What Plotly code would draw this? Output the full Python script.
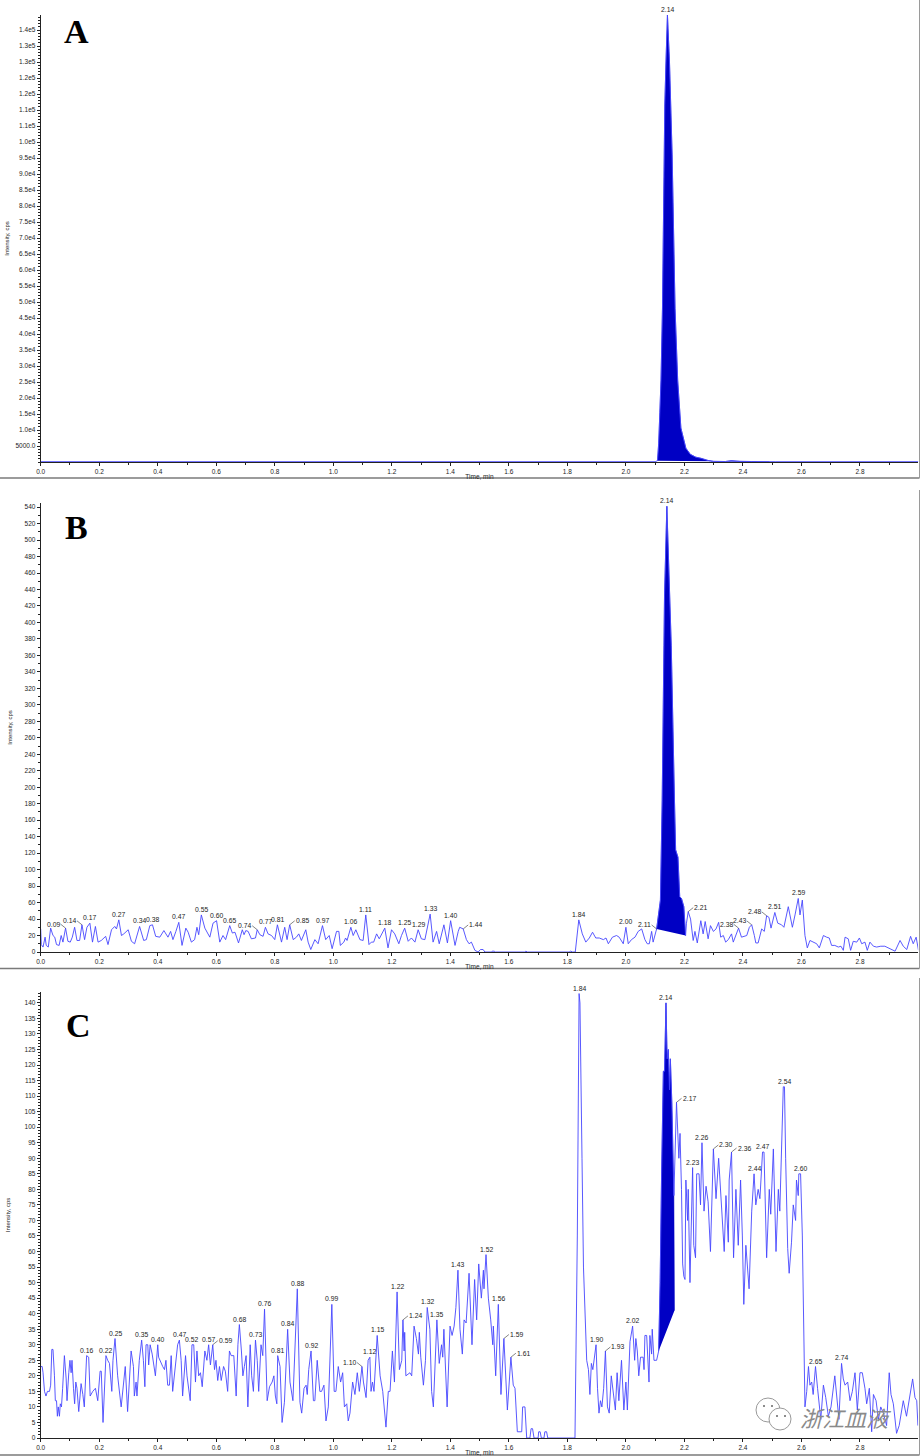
import plotly.graph_objects as go

# ---------- Panel A ----------
time_a = [0.0, 1.0, 2.1, 2.108, 2.112, 2.116, 2.12, 2.125, 2.13, 2.133, 2.137, 2.142, 2.149, 2.154, 2.158, 2.168,
          2.177, 2.188, 2.205, 2.22, 2.239, 2.257, 2.28, 2.3, 2.34, 2.36, 2.37, 2.39, 2.43, 2.45, 2.47, 2.49, 2.51, 3.0]
int_a = [100, 100, 100, 400, 5800, 15400, 25600, 48000, 96000, 111600, 125000, 139700, 125000, 111600, 96000, 48000,
         25600, 10600, 4300, 2400, 1500, 1150, 500, 200, 150, 400, 300, 200, 150, 100, 250, 100, 100, 100]
ticks_a = [5000 * i for i in range(1, 28)]
ticktext_a = ["5000.0", "1.0e4", "1.5e4", "2.0e4", "2.5e4", "3.0e4", "3.5e4", "4.0e4", "4.5e4", "5.0e4", "5.5e4",
              "6.0e4", "6.5e4", "7.0e4", "7.5e4", "8.0e4", "8.5e4", "9.0e4", "9.5e4", "1.0e5", "1.1e5", "1.1e5",
              "1.2e5", "1.2e5", "1.3e5", "1.3e5", "1.4e5"]
labels_a = [("2.14", 2.142, 139700, 0)]

# ---------- Panel B ----------
time_b = [0.0, 0.002, 0.008, 0.015, 0.019, 0.026, 0.034, 0.042, 0.048, 0.054, 0.063, 0.070, 0.076, 0.085, 0.093, 0.101,
          0.108, 0.116, 0.124, 0.133, 0.141, 0.150, 0.158, 0.168, 0.177, 0.187, 0.196, 0.207, 0.222, 0.230, 0.242, 0.253,
          0.259, 0.267, 0.276, 0.284, 0.299, 0.310, 0.321, 0.338, 0.352, 0.361, 0.373, 0.382, 0.393, 0.407, 0.421, 0.435,
          0.444, 0.452, 0.462, 0.472, 0.483, 0.496, 0.504, 0.515, 0.526, 0.534, 0.540, 0.549, 0.561, 0.578, 0.589, 0.601,
          0.612, 0.623, 0.632, 0.646, 0.655, 0.664, 0.676, 0.689, 0.695, 0.701, 0.709, 0.720, 0.734, 0.740, 0.749, 0.760,
          0.768, 0.777, 0.789, 0.800, 0.809, 0.823, 0.834, 0.842, 0.851, 0.863, 0.874, 0.882, 0.891, 0.906, 0.914, 0.923,
          0.937, 0.948, 0.963, 0.974, 0.986, 0.996, 1.011, 1.019, 1.024, 1.036, 1.042, 1.047, 1.060, 1.068, 1.077, 1.091,
          1.102, 1.111, 1.122, 1.130, 1.138, 1.148, 1.157, 1.176, 1.187, 1.199, 1.210, 1.224, 1.233, 1.244, 1.256, 1.267,
          1.279, 1.290, 1.301, 1.313, 1.331, 1.341, 1.353, 1.362, 1.378, 1.390, 1.401, 1.407, 1.416, 1.427, 1.432, 1.444,
          1.455, 1.464, 1.472, 1.484, 1.495, 1.503, 1.512, 1.518, 1.541, 1.543, 1.550, 1.553, 1.655, 1.658, 1.664, 1.806,
          1.811, 1.818, 1.827, 1.839, 1.851, 1.863, 1.875, 1.886, 1.897, 1.909, 1.923, 1.932, 1.940, 1.954, 1.968, 1.977,
          1.991, 2.0, 2.008, 2.019, 2.031, 2.042, 2.054, 2.065, 2.073, 2.080, 2.088, 2.093, 2.105, 2.118, 2.124, 2.13,
          2.132, 2.14, 2.15, 2.155, 2.166, 2.17, 2.178, 2.184, 2.19, 2.198, 2.204, 2.207, 2.213, 2.221, 2.230, 2.236,
          2.244, 2.256, 2.264, 2.271, 2.281, 2.289, 2.299, 2.308, 2.317, 2.324, 2.333, 2.341, 2.350, 2.361, 2.367, 2.376,
          2.385, 2.395, 2.413, 2.422, 2.430, 2.439, 2.444, 2.452, 2.464, 2.473, 2.481, 2.489, 2.496, 2.509, 2.519, 2.532,
          2.540, 2.555, 2.569, 2.578, 2.589, 2.595, 2.603, 2.612, 2.620, 2.629, 2.640, 2.652, 2.661, 2.675, 2.686, 2.695,
          2.703, 2.714, 2.726, 2.735, 2.743, 2.749, 2.760, 2.768, 2.777, 2.789, 2.798, 2.806, 2.817, 2.825, 2.834, 2.846,
          2.857, 2.871, 2.885, 2.902, 2.920, 2.937, 2.948, 2.960, 2.973, 2.982, 2.992, 3.0]
int_b = [28, 9, 6, 18, 8, 6, 29, 20, 18, 9, 8, 20, 12, 29, 13, 12,
         18, 30, 14, 14, 33, 15, 30, 35, 12, 31, 12, 14, 19, 9, 27, 31,
         28, 39, 20, 22, 27, 13, 10, 31, 14, 15, 32, 33, 19, 18, 26, 18,
         25, 15, 25, 36, 8, 29, 24, 12, 15, 30, 21, 45, 29, 18, 35, 38,
         12, 20, 15, 32, 23, 24, 11, 27, 21, 26, 25, 16, 17, 27, 21, 19,
         30, 22, 20, 15, 33, 12, 30, 15, 33, 15, 18, 22, 14, 27, 12, 3,
         15, 10, 32, 15, 20, 4, 25, 25, 8, 12, 17, 14, 30, 20, 27, 15,
         14, 45, 9, 12, 12, 22, 16, 29, 5, 27, 22, 10, 20, 29, 13, 17,
         12, 27, 16, 15, 46, 12, 25, 10, 33, 11, 38, 25, 8, 25, 30, 28,
         15, 10, 12, 2, 0, 3, 3, 0, 0, 1, 1, 0, 0, 1, 0, 0,
         1, 0, 0, 39, 22, 12, 17, 24, 17, 17, 15, 17, 10, 18, 20, 18,
         10, 30, 10, 15, 18, 25, 28, 15, 10, 10, 25, 12, 28, 63, 184, 372,
         433, 541, 433, 372, 184, 124, 115, 67, 65, 55, 20, 35, 49, 40, 14, 25,
         11, 38, 22, 37, 16, 32, 25, 28, 36, 18, 20, 12, 15, 22, 12, 20,
         29, 18, 20, 30, 33, 20, 11, 11, 28, 25, 44, 42, 29, 48, 35, 33,
         30, 55, 30, 45, 65, 45, 63, 20, 5, 14, 12, 10, 5, 20, 18, 17,
         8, 8, 6, 7, 2, 18, 16, 2, 13, 12, 17, 10, 12, 2, 12, 7,
         6, 7, 7, 4, 1, 14, 7, 3, 19, 10, 18, 2]
labels_b = [("0.09", 0.085, 29, -1), ("0.14", 0.141, 33, -1), ("0.17", 0.168, 35, 0), ("0.27", 0.267, 39, 0),
            ("0.34", 0.338, 31, 0), ("0.38", 0.382, 33, 0), ("0.47", 0.472, 36, 0), ("0.55", 0.549, 45, 0),
            ("0.60", 0.601, 38, 0), ("0.65", 0.646, 32, 0), ("0.74", 0.740, 27, -1), ("0.77", 0.768, 30, 0),
            ("0.81", 0.809, 33, 0), ("0.85", 0.851, 33, 1), ("0.97", 0.963, 32, 0), ("1.06", 1.060, 30, 0),
            ("1.11", 1.111, 45, 0), ("1.18", 1.176, 29, 0), ("1.25", 1.244, 29, 0), ("1.29", 1.290, 27, 0),
            ("1.33", 1.331, 46, 0), ("1.40", 1.401, 38, 0), ("1.44", 1.444, 28, 1), ("1.84", 1.839, 39, 0),
            ("2.00", 2.0, 30, 0), ("2.11", 2.105, 28, -1), ("2.14", 2.14, 541, 0), ("2.21", 2.213, 49, 1),
            ("2.38", 2.385, 29, -1), ("2.43", 2.430, 33, -1), ("2.48", 2.481, 44, -1), ("2.51", 2.509, 48, 0),
            ("2.59", 2.589, 65, 0)]

# ---------- Panel C ----------
time_c = [0.0, 0.005, 0.008, 0.013, 0.018, 0.023, 0.030, 0.034, 0.038, 0.042, 0.047, 0.050, 0.054, 0.057, 0.060, 0.064,
          0.067, 0.071, 0.075, 0.081, 0.087, 0.090, 0.096, 0.100, 0.104, 0.107, 0.112, 0.116, 0.120, 0.124, 0.130, 0.138,
          0.144, 0.149, 0.157, 0.164, 0.169, 0.178, 0.187, 0.191, 0.195, 0.203, 0.207, 0.213, 0.223, 0.229, 0.235, 0.243,
          0.247, 0.254, 0.263, 0.275, 0.283, 0.289, 0.297, 0.309, 0.317, 0.320, 0.326, 0.329, 0.337, 0.345, 0.351, 0.356,
          0.360, 0.366, 0.369, 0.374, 0.381, 0.392, 0.400, 0.403, 0.417, 0.423, 0.428, 0.434, 0.440, 0.446, 0.451, 0.463,
          0.468, 0.474, 0.480, 0.485, 0.495, 0.500, 0.506, 0.511, 0.517, 0.523, 0.529, 0.534, 0.540, 0.546, 0.552, 0.561,
          0.568, 0.574, 0.580, 0.588, 0.594, 0.599, 0.605, 0.611, 0.617, 0.625, 0.631, 0.639, 0.645, 0.651, 0.660, 0.668,
          0.674, 0.679, 0.686, 0.691, 0.696, 0.702, 0.708, 0.716, 0.721, 0.727, 0.734, 0.740, 0.745, 0.753, 0.759, 0.765,
          0.774, 0.782, 0.791, 0.797, 0.802, 0.807, 0.810, 0.818, 0.825, 0.833, 0.844, 0.852, 0.862, 0.877, 0.886, 0.892,
          0.900, 0.907, 0.911, 0.916, 0.924, 0.932, 0.937, 0.945, 0.954, 0.960, 0.968, 0.975, 0.983, 0.995, 1.003, 1.009,
          1.017, 1.025, 1.032, 1.038, 1.046, 1.051, 1.057, 1.066, 1.074, 1.082, 1.089, 1.098, 1.103, 1.112, 1.119, 1.125,
          1.129, 1.134, 1.139, 1.150, 1.160, 1.169, 1.180, 1.188, 1.194, 1.202, 1.209, 1.218, 1.226, 1.234, 1.238, 1.242,
          1.244, 1.248, 1.262, 1.268, 1.276, 1.284, 1.291, 1.294, 1.299, 1.308, 1.315, 1.321, 1.330, 1.336, 1.342, 1.349,
          1.354, 1.362, 1.370, 1.374, 1.378, 1.389, 1.399, 1.406, 1.413, 1.419, 1.426, 1.433, 1.441, 1.447, 1.454, 1.464,
          1.474, 1.483, 1.490, 1.497, 1.506, 1.513, 1.515, 1.522, 1.530, 1.538, 1.545, 1.547, 1.555, 1.564, 1.573, 1.583,
          1.595, 1.607, 1.615, 1.621, 1.629, 1.644, 1.647, 1.655, 1.661, 1.672, 1.676, 1.681, 1.686, 1.700, 1.702, 1.707,
          1.711, 1.720, 1.723, 1.729, 1.733, 1.826, 1.834, 1.840, 1.843, 1.850, 1.855, 1.866, 1.872, 1.877, 1.882, 1.887,
          1.892, 1.898, 1.903, 1.908, 1.913, 1.918, 1.924, 1.930, 1.937, 1.943, 1.950, 1.957, 1.964, 1.970, 1.976, 1.980,
          1.985, 1.993, 2.0, 2.005, 2.014, 2.023, 2.030, 2.034, 2.039, 2.044, 2.050, 2.059, 2.062, 2.065, 2.071, 2.079,
          2.082, 2.088, 2.090, 2.096, 2.105, 2.112, 2.117, 2.122, 2.128, 2.132, 2.137, 2.141, 2.145, 2.149, 2.152, 2.157,
          2.160, 2.164, 2.173, 2.181, 2.185, 2.190, 2.194, 2.198, 2.202, 2.205, 2.211, 2.213, 2.219, 2.228, 2.232, 2.238,
          2.242, 2.250, 2.255, 2.260, 2.267, 2.274, 2.281, 2.289, 2.299, 2.308, 2.317, 2.327, 2.336, 2.342, 2.350, 2.353,
          2.361, 2.368, 2.376, 2.384, 2.392, 2.398, 2.403, 2.410, 2.421, 2.430, 2.438, 2.444, 2.452, 2.458, 2.467, 2.472,
          2.481, 2.490, 2.495, 2.504, 2.513, 2.521, 2.526, 2.538, 2.542, 2.546, 2.553, 2.558, 2.566, 2.572, 2.580, 2.583,
          2.589, 2.591, 2.597, 2.603, 2.610, 2.612, 2.618, 2.624, 2.629, 2.635, 2.640, 2.648, 2.655, 2.666, 2.675, 2.683,
          2.692, 2.701, 2.714, 2.720, 2.728, 2.737, 2.743, 2.749, 2.758, 2.766, 2.774, 2.783, 2.791, 2.800, 2.808, 2.817,
          2.823, 2.832, 2.840, 2.846, 2.855, 2.863, 2.871, 2.880, 2.891, 2.900, 2.906, 2.914, 2.925, 2.934, 2.948, 2.959,
          2.973, 2.980, 2.988, 2.994, 2.998]
int_c = [23, 23, 21, 15, 13.5, 15, 15, 17, 28.5, 28.5, 20, 12, 12, 7, 10, 7,
         11, 10, 16, 26.5, 19, 12, 21, 25, 21, 25, 16, 11, 18, 16, 8.5, 17.5,
         14, 10, 26.5, 26, 13.5, 15, 16, 14, 12, 21.5, 21.5, 5, 26.5, 25, 24, 15,
         25, 32, 20, 10, 18, 23, 8.5, 28, 23, 13.5, 18, 13.5, 25, 31.5, 25, 16.5,
         30, 30, 23.5, 30, 27, 20, 30, 26, 23, 22, 25, 17, 17, 26.5, 15, 25,
         30, 31.5, 25, 13.5, 26.5, 20, 15, 12, 30, 30, 18, 28, 20, 21, 16.5, 28,
         25, 30, 23.5, 30, 22, 25, 18.5, 23, 18.5, 23, 21.5, 15, 28, 26.5, 26.5, 13.5,
         30, 36.5, 28, 20, 23, 26.5, 10, 30, 20, 15, 31.5, 25, 15, 30, 26.5, 41.5,
         12, 16.5, 18, 20, 13.5, 11, 26.5, 23, 5, 11.5, 35, 18, 12, 48, 11.5, 8,
         16, 17, 14, 22, 28, 12, 12, 25, 15, 15, 17, 5.5, 10, 43, 15, 15,
         23, 18, 21, 10, 11, 5.5, 8, 18, 14, 21, 15, 23, 18, 13, 25, 26,
         15, 18, 15, 33, 20, 15, 3.5, 15, 15, 28, 18, 47, 22, 25, 38, 28,
         34, 20, 21, 20, 36, 32, 27, 34, 26, 17, 25, 42, 35, 15, 10, 30,
         38, 24, 30, 26, 35, 10, 36, 33, 36, 42, 54, 35, 27, 38, 37, 53,
         30, 51, 38, 56, 45, 54, 48, 59, 45, 38, 30, 36, 20, 43, 14, 32,
         9, 26, 17, 16, 2, 2, 10, 10, 0, 0, 3, 3, 0, 0, 2, 2,
         0, 0, 2, 2, 0, 0, 65, 143, 140, 90, 55, 25, 22, 14, 24, 22,
         25, 30, 16, 8, 12, 10, 16, 28, 10, 8, 20, 14, 9, 21, 12, 18,
         25, 9, 18, 9, 31, 36, 25, 32, 28, 20, 26, 26, 22, 33, 33, 18,
         33, 27, 35, 25, 25, 28, 50, 85, 118, 118, 140, 122, 125, 112, 122, 108,
         96, 78, 108, 90, 98, 80, 56, 52, 51, 83, 70, 80, 50, 87, 62, 58,
         85, 85, 75, 95, 73, 81, 76, 60, 93, 77, 90, 72, 60, 78, 63, 83,
         92, 58, 80, 62, 83, 65, 43, 62, 48, 73, 85, 75, 80, 77, 92, 92,
         58, 80, 72, 93, 60, 80, 73, 113, 113, 90, 61, 53, 63, 75, 70, 83,
         78, 85, 85, 65, 20, 10, 15, 23, 17, 18, 14, 23, 16, 6, 17, 13,
         7, 10, 20, 14, 6, 24, 19, 17, 18, 12, 15, 21, 9, 21, 21, 16,
         11, 16, 2, 14, 12, 6, 10, 8, 4, 21, 14, 11, 1.5, 4, 12, 7,
         15, 19, 13, 12, 4]
labels_c = [("0.16", 0.157, 26.5, 0), ("0.22", 0.223, 26.5, 0), ("0.25", 0.254, 32, 0), ("0.35", 0.345, 31.5, 0),
            ("0.40", 0.400, 30, 0), ("0.47", 0.474, 31.5, 0), ("0.52", 0.517, 30, 0), ("0.57", 0.574, 30, 0),
            ("0.59", 0.588, 30, 1), ("0.68", 0.679, 36.5, 0), ("0.73", 0.734, 31.5, 0), ("0.76", 0.765, 41.5, 0),
            ("0.81", 0.810, 26.5, 0), ("0.84", 0.844, 35, 0), ("0.88", 0.877, 48, 0), ("0.92", 0.924, 28, 0),
            ("0.99", 0.995, 43, 0), ("1.10", 1.098, 23, -1), ("1.12", 1.125, 26, 0), ("1.15", 1.150, 33, 0),
            ("1.22", 1.218, 47, 0), ("1.24", 1.238, 38, 1), ("1.32", 1.321, 42, 0), ("1.35", 1.354, 38, 0),
            ("1.43", 1.426, 54, 0), ("1.52", 1.522, 59, 0), ("1.56", 1.564, 43, 0), ("1.59", 1.583, 32, 1),
            ("1.61", 1.607, 26, 1), ("1.84", 1.840, 143, 0), ("1.90", 1.898, 30, 0), ("1.93", 1.930, 28, 1),
            ("2.02", 2.023, 36, 0), ("2.14", 2.137, 140, 0), ("2.17", 2.173, 108, 1), ("2.23", 2.228, 87, 0),
            ("2.26", 2.260, 95, 0), ("2.30", 2.299, 93, 1), ("2.36", 2.361, 92, 1), ("2.44", 2.438, 85, 0),
            ("2.47", 2.467, 92, 0), ("2.54", 2.542, 113, 0), ("2.60", 2.597, 85, 0), ("2.65", 2.648, 23, 0),
            ("2.74", 2.737, 24, 0)]

# Integrated peak regions: start, end, and the value at which the baseline ends
peak_a = (2.108, 2.49, 100)
peak_b = (2.105, 2.198, 20, 2.204)
peak_c = (2.112, 2.164, 41, 2.166)

W, H = 920, 1456
LINE = "#4646ff"
FILL = "#0000c4"
TXT = "#1c1c1c"
FONT = "Liberation Sans, Arial, sans-serif"


def ypos(p):
    return 1 - p / H


X_DOM = [40.7 / W, 918.2 / W]
panels = [
    (time_a, int_a, labels_a, (15, 462), [0, 139700], ""),
    (time_b, int_b, labels_b, (503, 952), [0, 545], "2"),
    (time_c, int_c, labels_c, (992, 1438), [0, 143.5], "3"),
]

fig = go.Figure()
annotations = []
layout = {}
for i, (t, v, labs, (top, bot), yr, s) in enumerate(panels):
    if i == 0:
        pts = [(a, b) for a, b in zip(t, v) if peak_a[0] <= a <= peak_a[1]]
    elif i == 1:
        pts = [(a, b) for a, b in zip(t, v) if peak_b[0] <= a <= peak_b[1]] + [(peak_b[3], peak_b[2])]
    else:
        pts = [(a, b) for a, b in zip(t, v) if peak_c[0] <= a <= peak_c[1]] + [(peak_c[3], peak_c[2])]
    fig.add_trace(go.Scatter(x=[p[0] for p in pts], y=[p[1] for p in pts], mode="lines", fill="toself",
                             fillcolor=FILL, line=dict(color=FILL, width=0.5), xaxis="x" + s, yaxis="y" + s,
                             hoverinfo="skip", showlegend=False))
    fig.add_trace(go.Scatter(x=t, y=v, mode="lines", line=dict(color=LINE, width=0.9), xaxis="x" + s, yaxis="y" + s,
                             showlegend=False))
    for text, lx, ly, side in labs:
        a = dict(text=text, x=lx, y=ly, xref="x" + s, yref="y" + s,
                 font=dict(family=FONT, size=6.8, color=TXT), borderpad=0)
        if side == 0:
            a.update(showarrow=False, yanchor="bottom", xanchor="center", yshift=1)
        else:
            a.update(showarrow=True, arrowhead=0, arrowwidth=0.6, arrowcolor="#333",
                     ax=5 * side, ay=-4, xanchor="left" if side > 0 else "right", yanchor="middle")
        annotations.append(a)

    xa = dict(domain=X_DOM, range=[0, 2.999], anchor="y" + s, tick0=0, dtick=0.2, tickformat=".1f", automargin=False,
              ticks="outside", ticklen=3, tickwidth=1, tickcolor="#222", showline=True, linecolor="#222", linewidth=1,
              showgrid=False, zeroline=False, tickfont=dict(family=FONT, size=6.5, color=TXT),
              minor=dict(dtick=0.1, tick0=0, ticks="outside", ticklen=2, tickcolor="#222", tickwidth=1, showgrid=False),
              title=dict(text="Time, min", font=dict(family=FONT, size=6.5, color=TXT), standoff=0))
    ya = dict(domain=[ypos(bot), ypos(top)], range=yr, anchor="x" + s, ticks="outside", ticklen=3, tickwidth=1,
              automargin=False,
              tickcolor="#222", showline=True, linecolor="#222", linewidth=1, showgrid=False, zeroline=False,
              tickfont=dict(family=FONT, size=6.5, color=TXT),
              title=dict(text="Intensity, cps", font=dict(family=FONT, size=6, color=TXT)))
    if i == 0:
        ya.update(tickmode="array", tickvals=ticks_a, ticktext=ticktext_a,
                  minor=dict(dtick=1000, tick0=0, ticks="outside", ticklen=1.5, tickcolor="#222", tickwidth=1))
        ya["title"]["standoff"] = 5
    elif i == 1:
        ya.update(tick0=0, dtick=20, minor=dict(dtick=10, tick0=0, ticks="outside", ticklen=1.5, tickcolor="#222", tickwidth=1))
        ya["title"]["standoff"] = 11
    else:
        ya.update(tick0=0, dtick=5, minor=dict(dtick=1, tick0=0, ticks="outside", ticklen=1.5, tickcolor="#222", tickwidth=1))
        ya["title"]["standoff"] = 13
    layout["xaxis" + s] = xa
    layout["yaxis" + s] = ya

# Panel letters
for letter, px, py in [("A", 76, 31), ("B", 76, 527), ("C", 78, 1025)]:
    annotations.append(dict(text=f"<b>{letter}</b>", x=px / W, y=ypos(py), xref="paper", yref="paper", showarrow=False,
                            font=dict(family="Liberation Serif, serif", size=34, color="#000"),
                            xanchor="center", yanchor="middle"))
# Watermark
annotations.append(dict(text="<i>浙江血液</i>", x=846 / W, y=ypos(1417), xref="paper", yref="paper", showarrow=False,
                        font=dict(family="Noto Sans CJK SC", size=22, color="#8a8a8a"),
                        xanchor="center", yanchor="middle"))

shapes = []
for py in (478, 968.5, 1455):
    shapes.append(dict(type="line", xref="paper", yref="paper", x0=0, x1=919.5 / W, y0=ypos(py), y1=ypos(py),
                       line=dict(color="#7a7a7a", width=1.5)))
for y0, y1 in ((0, 478), (490, 968.5), (978, 1455)):
    shapes.append(dict(type="line", xref="paper", yref="paper", x0=919.5 / W, x1=919.5 / W, y0=ypos(y0), y1=ypos(y1),
                       line=dict(color="#9a9a9a", width=1)))
# WeChat bubbles of the watermark
for cx, cy, r in [(768, 1410, 12), (780, 1419, 11)]:
    shapes.append(dict(type="circle", xref="paper", yref="paper", x0=(cx - r) / W, x1=(cx + r) / W,
                       y0=ypos(cy - r), y1=ypos(cy + r), fillcolor="#ffffff", line=dict(color="#9a9a9a", width=1)))
for cx, cy in [(764, 1406), (772, 1406), (777, 1416), (785, 1416)]:
    shapes.append(dict(type="circle", xref="paper", yref="paper", x0=(cx - 1) / W, x1=(cx + 1) / W,
                       y0=ypos(cy - 1), y1=ypos(cy + 1), fillcolor="#666666", line=dict(width=0)))

fig.update_layout(width=W, height=H, margin=dict(l=0, r=0, t=0, b=0), paper_bgcolor="white", plot_bgcolor="white",
                  showlegend=False, annotations=annotations, shapes=shapes, **layout)
fig.write_html("out.html", config={"displayModeBar": False},
               post_script="document.body.style.margin='0';document.body.style.overflow='hidden';")
